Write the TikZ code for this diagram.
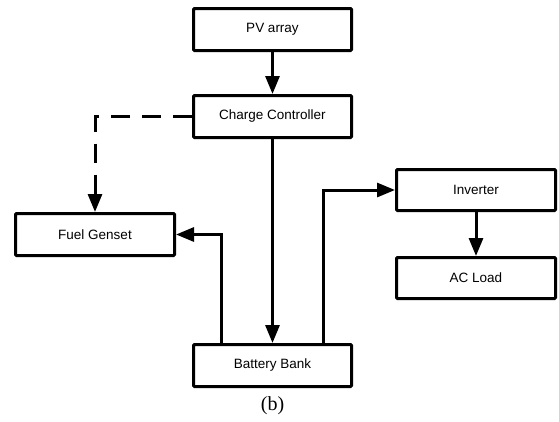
\documentclass[tikz,border=0pt]{standalone}
\usepackage{fontspec}
\setmainfont{Liberation Serif}
\newfontfamily\arialf{Liberation Sans}
\usetikzlibrary{arrows.meta}
\begin{document}
\begin{tikzpicture}[x=1pt,y=-1pt,
 blk/.style={draw, line width=3pt, minimum width=158pt, minimum height=42pt, inner sep=0pt, rounded corners=1pt, font=\arialf\fontsize{13.5}{15}\selectfont},
 conn/.style={line width=3pt, -{Triangle[length=18pt,width=14pt]}},
 dashconn/.style={conn, dash pattern=on 19pt off 12pt}]
\useasboundingbox (0,0) rectangle (559,421);
\node[blk] (pv) at (272.5,29.5) {PV array};
\node[blk] (cc) at (272.5,116.5) {Charge Controller};
\node[blk, minimum width=159pt] (fuel) at (95,234.5) {Fuel Genset};
\node[blk, minimum width=159pt, minimum height=41pt] (inv) at (476,190) {Inverter};
\node[blk, minimum width=159pt, minimum height=41pt] (ac) at (476,278) {AC Load};
\node[blk] (bat) at (272.5,365.5) {Battery Bank};
\node[font=\fontsize{20}{22}\selectfont] (cap) at (272.5,406) {(b)};
\draw[conn] (pv) -- (cc);
\draw[conn] (cc) -- (bat);
\draw[conn] (inv) -- (ac);
\draw[dashconn] (cc.west) -| (fuel.north);
\draw[conn] ([xshift=-51.5pt]bat.north) |- (fuel.east);
\draw[conn] ([xshift=50.5pt]bat.north) |- (inv.west);
\end{tikzpicture}
\end{document}
